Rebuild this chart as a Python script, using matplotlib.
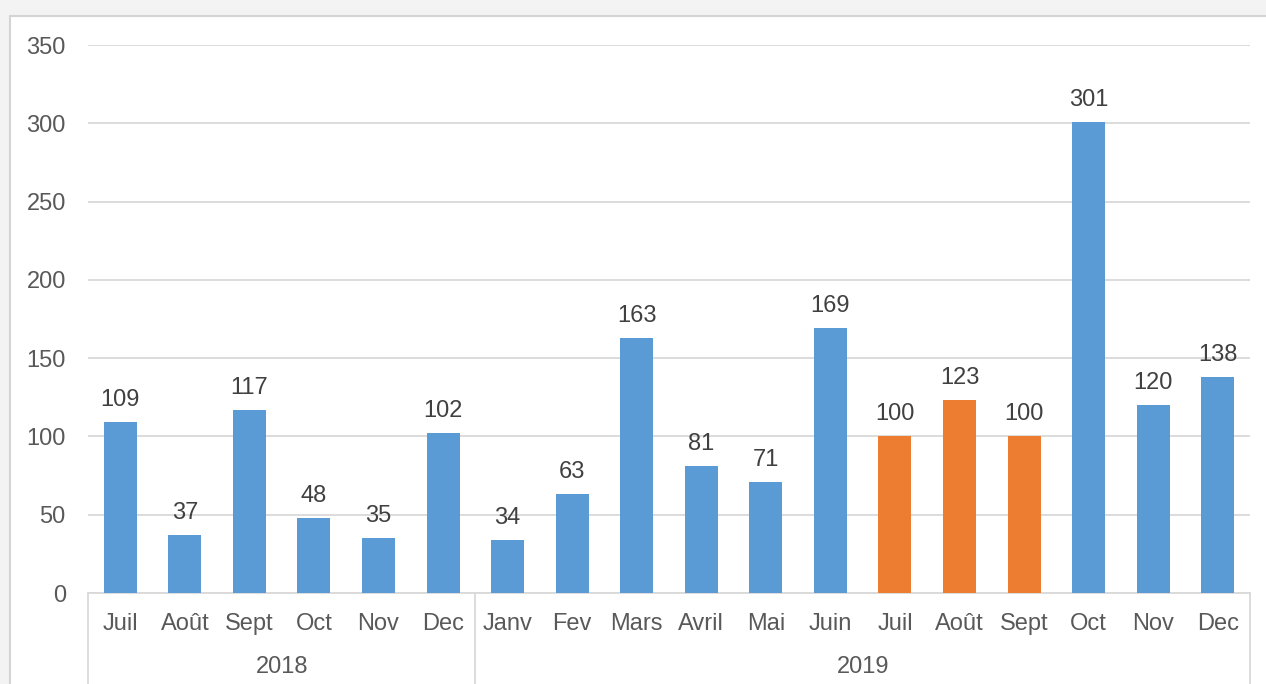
import matplotlib
matplotlib.use("Agg")
import matplotlib.pyplot as plt
from matplotlib.patches import Rectangle

months = ["Juil", "Août", "Sept", "Oct", "Nov", "Dec",
          "Janv", "Fev", "Mars", "Avril", "Mai", "Juin",
          "Juil", "Août", "Sept", "Oct", "Nov", "Dec"]
values = [109, 37, 117, 48, 35, 102,
          34, 63, 163, 81, 71, 169,
          100, 123, 100, 301, 120, 138]
highlight = [False] * 12 + [True, True, True] + [False] * 3
years = ["2018", "2019"]
year_counts = [6, 12]
yticks = [0, 50, 100, 150, 200, 250, 300, 350]

BLUE = "#5B9BD5"
ORANGE = "#ED7D31"
TXT = "#595959"
GRID = "#D9D9D9"
FS = 17

plt.rcParams['font.family'] = ['Liberation Sans', 'DejaVu Sans']

W, H = 1266, 684
fig = plt.figure(figsize=(W / 100, H / 100), dpi=100)
fig.patch.set_facecolor("#F3F3F3")
# white chart area
fig.patches.append(Rectangle((10 / W, -0.1), 1.2, 1.1 - 16 / H, transform=fig.transFigure,
                             facecolor="white", edgecolor="#D4D4D4", linewidth=1.5, zorder=-10))

ax = fig.add_axes([88 / W, 1 - 593 / H, (1250 - 88) / W, (593 - 45) / H])
ax.set_zorder(5)
ax.set_facecolor("white")
x = list(range(len(values)))
colors = [ORANGE if h else BLUE for h in highlight]
bars = ax.bar(x, values, width=0.51, color=colors, zorder=3)

for xi, v in zip(x, values):
    ax.annotate(str(v), (xi, v), xytext=(0, 8), textcoords="offset points",
                ha="center", va="bottom", fontsize=FS, color="#404040")

ax.set_xlim(-0.5, len(values) - 0.5)
ax.set_ylim(0, 350)
ax.set_yticks(yticks)
ax.tick_params(axis="y", length=0, pad=16, labelsize=FS, labelcolor=TXT)
ax.set_xticks([])
ax.grid(axis="y", color=GRID, linewidth=1.3, zorder=0)
for s in ["top", "right", "left"]:
    ax.spines[s].set_visible(False)
ax.spines["bottom"].set_color(GRID)
ax.spines["bottom"].set_linewidth(1.3)

tr = ax.get_xaxis_transform()
for xi, m in zip(x, months):
    ax.text(xi, -0.056, m, transform=tr, ha="center", va="center",
            fontsize=FS, color=TXT)

bottom = -(H - 593) / 548
start = -0.5
seps = [start]
for yr, n in zip(years, year_counts):
    ax.text(start + n / 2, -0.135, yr, transform=tr, ha="center", va="center",
            fontsize=FS, color=TXT)
    start += n
    seps.append(start)
for s in seps:
    ax.plot([s, s], [0, bottom], transform=tr, color=GRID, linewidth=1.3, clip_on=False)

fig.savefig("out.png", dpi=100, facecolor=fig.get_facecolor())
